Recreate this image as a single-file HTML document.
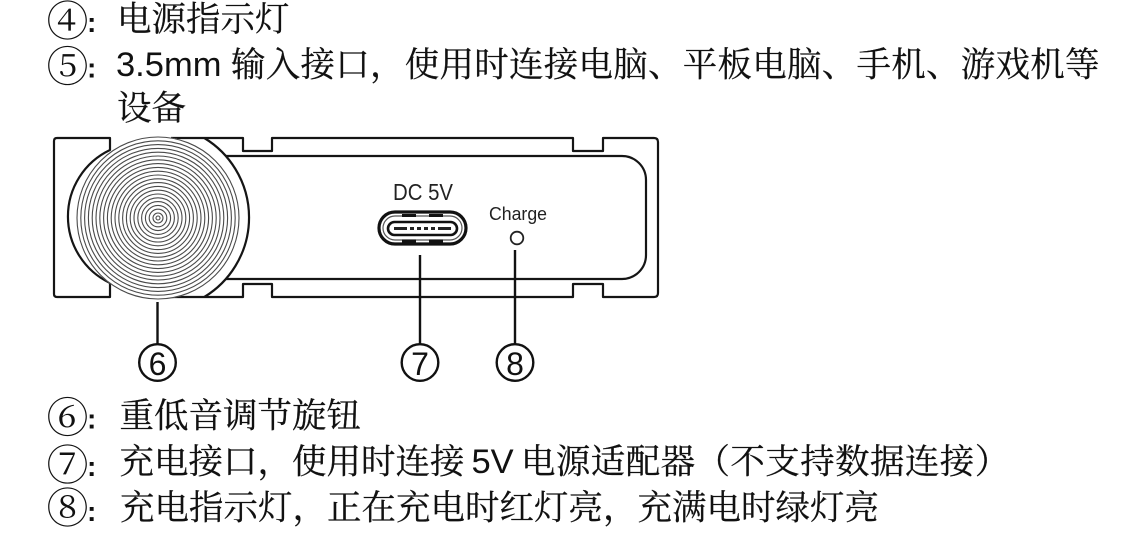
<!DOCTYPE html>
<html>
<head>
<meta charset="utf-8">
<style>
  html, body { margin:0; padding:0; background:#fff; }
  body { width:1141px; height:543px; overflow:hidden; }
  svg { display:block; }
  .cj { font-family:"Noto Serif CJK SC","Noto Sans CJK SC",serif; font-size:34.5px; fill:#111; stroke:#111; stroke-width:0.25; }
  .ci { font-family:"Noto Serif CJK SC","Noto Sans CJK SC",serif; font-size:42px; fill:#111; }
  .co { font-family:"Liberation Sans",sans-serif; font-size:28px; font-weight:bold; fill:#111; }
  .la { font-family:"Liberation Sans",sans-serif; font-size:34.5px; fill:#111; }
  .lbl { font-family:"Liberation Sans",sans-serif; fill:#222; }
  .num { font-family:"Liberation Sans",sans-serif; font-size:32px; fill:#111; }
</style>
</head>
<body>
<svg width="1141" height="543" viewBox="0 0 1141 543" xmlns="http://www.w3.org/2000/svg">
  <!-- Top text -->
  <text class="ci" x="46.5" y="36">④</text>
  <text class="co" x="87" y="32">:</text>
  <text class="cj" x="117" y="31">电源指示灯</text>

  <text class="ci" x="46.5" y="81.5">⑤</text>
  <text class="co" x="87" y="77.5">:</text>
  <text class="la" x="116" y="76">3.5mm</text>
  <text class="cj" x="231" y="76.5" letter-spacing="0.25">输入接口，使用时连接电脑、平板电脑、手机、游戏机等</text>

  <text class="cj" x="117" y="120">设备</text>

  <!-- Diagram -->
  <g fill="none" stroke="#151515" stroke-width="2.2" stroke-linejoin="round">
    <path d="M110,138 H57 Q54,138 54,141 V294 Q54,297 57,297 H110 V283 A73.6,73.6 0 0,1 110,150 Z"/>
    <path d="M204.3,138 A93,93 0 0,1 204.3,297"/>
    <path d="M171,138 H243 V151 H272 V138 H573 V151 H603 V138 H654 Q658,138 658,142 V293 Q658,297 654,297 H603 V284 H573 V297 H272 V284 H243 V297 H171"/>
    <path d="M225.8,156 H622 A24,24 0 0,1 646,180 V255 A24,24 0 0,1 622,279 H225.8"/>
  </g>

  <!-- Knob -->
  <circle cx="158" cy="218" r="81.5" fill="#fff" stroke="none"/>
  <g fill="none" stroke="#4a4a4a" stroke-width="1.1">
    <circle cx="158" cy="218" r="81"/>
    <circle cx="158" cy="218" r="77.2"/>
    <circle cx="158" cy="218" r="73.4"/>
    <circle cx="158" cy="218" r="69.6"/>
    <circle cx="158" cy="218" r="65.8"/>
    <circle cx="158" cy="218" r="62"/>
    <circle cx="158" cy="218" r="58.2"/>
    <circle cx="158" cy="218" r="54.4"/>
    <circle cx="158" cy="218" r="50.6"/>
    <circle cx="158" cy="218" r="46.8"/>
    <circle cx="158" cy="218" r="43"/>
    <circle cx="158" cy="218" r="39.2"/>
    <circle cx="158" cy="218" r="35.4"/>
    <circle cx="158" cy="218" r="31.6"/>
    <circle cx="158" cy="218" r="27.8"/>
    <circle cx="158" cy="218" r="24"/>
    <circle cx="158" cy="218" r="20.2"/>
    <circle cx="158" cy="218" r="16.4"/>
    <circle cx="158" cy="218" r="12.6"/>
    <circle cx="158" cy="218" r="8.8"/>
    <circle cx="158" cy="218" r="5"/>
    <circle cx="158" cy="218" r="2"/>
  </g>

  <!-- DC 5V label -->
  <text class="lbl" x="393" y="200" font-size="23" textLength="60" lengthAdjust="spacingAndGlyphs">DC 5V</text>

  <!-- USB-C port -->
  <rect x="379" y="212" width="87" height="32" rx="16" fill="#fff" stroke="#111" stroke-width="3.2"/>
  <rect x="383" y="216" width="79" height="24" rx="12" fill="#fff" stroke="#555" stroke-width="1.2"/>
  <rect x="402" y="214" width="14" height="3" fill="#111"/>
  <rect x="429" y="214" width="14" height="3" fill="#111"/>
  <rect x="402" y="239.5" width="14" height="3" fill="#111"/>
  <rect x="429" y="239.5" width="14" height="3" fill="#111"/>
  <rect x="388" y="222" width="69" height="13" rx="6.5" fill="#fff" stroke="#111" stroke-width="2.6"/>
  <g stroke="#222" stroke-width="3">
    <line x1="394" y1="228.5" x2="407" y2="228.5"/>
    <line x1="410" y1="228.5" x2="414" y2="228.5"/>
    <line x1="417" y1="228.5" x2="421" y2="228.5"/>
    <line x1="424" y1="228.5" x2="428" y2="228.5"/>
    <line x1="431" y1="228.5" x2="435" y2="228.5"/>
    <line x1="438" y1="228.5" x2="451" y2="228.5"/>
  </g>

  <!-- Charge label + LED -->
  <text class="lbl" x="489" y="220" font-size="18.5" textLength="58" lengthAdjust="spacingAndGlyphs">Charge</text>
  <circle cx="517" cy="238" r="6.3" fill="#fff" stroke="#222" stroke-width="1.8"/>

  <!-- Leaders -->
  <g stroke="#111" stroke-width="2.4">
    <line x1="157.5" y1="302" x2="157.5" y2="344"/>
    <line x1="420" y1="255" x2="420" y2="344"/>
    <line x1="515" y1="250" x2="515" y2="344"/>
  </g>
  <g fill="#fff" stroke="#111" stroke-width="2.4">
    <circle cx="157.5" cy="362.5" r="18.3"/>
    <circle cx="420" cy="362.5" r="18.3"/>
    <circle cx="515" cy="362.5" r="18.3"/>
  </g>
  <text class="num" x="157.5" y="375" text-anchor="middle">6</text>
  <text class="num" x="420" y="375" text-anchor="middle">7</text>
  <text class="num" x="515" y="375" text-anchor="middle">8</text>

  <!-- Bottom text -->
  <text class="ci" x="46.5" y="432.5">⑥</text>
  <text class="co" x="87" y="428.5">:</text>
  <text class="cj" x="119.5" y="427.5">重低音调节旋钮</text>

  <text class="ci" x="46.5" y="480">⑦</text>
  <text class="co" x="87" y="476">:</text>
  <text class="cj" x="119.5" y="473.5">充电接口，使用时连接</text>
  <text class="la" x="471.5" y="473">5V</text>
  <text class="cj" x="521" y="473.5" letter-spacing="0.4">电源适配器（不支持数据连接）</text>

  <text class="ci" x="46.5" y="523">⑧</text>
  <text class="co" x="87" y="521">:</text>
  <text class="cj" x="120" y="519.5">充电指示灯，正在充电时红灯亮，充满电时绿灯亮</text>
</svg>
</body>
</html>
